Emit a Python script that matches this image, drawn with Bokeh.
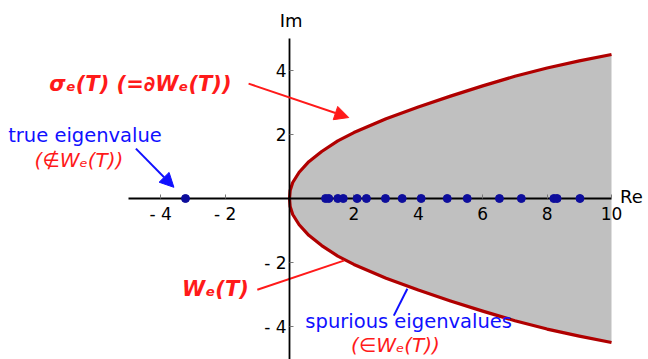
from bokeh.plotting import figure
from bokeh.models import Range1d, LinearAxis, FixedTicker, Label, Arrow, NormalHead
from bokeh.embed import file_html
from bokeh.resources import INLINE

# boundary of W_e(T) (upper half; the set is symmetric about the real axis)
boundary_re = [0.0, 0.02, 0.1, 0.3, 0.6, 1.0, 1.5, 2.0, 3.0, 4.0, 5.0, 6.0, 7.0, 8.0, 9.0, 10.0]
boundary_im = [0.0, 0.25, 0.5, 0.82, 1.15, 1.47, 1.80, 2.06, 2.49, 2.86, 3.20, 3.52, 3.82, 4.08, 4.30, 4.50]

# spurious eigenvalues (on the real axis, inside W_e(T))
spurious_re = [1.12, 1.22, 1.50, 1.67, 2.10, 2.39, 2.98, 3.50, 4.09, 4.90, 5.52, 6.52, 7.20, 8.21, 8.31, 9.02]
spurious_im = [0.0] * len(spurious_re)

# true eigenvalue
true_re = [-3.23]
true_im = [0.0]

x_ticks = [-4, -2, 2, 4, 6, 8, 10]
y_ticks = [-4, -2, 2, 4]
tick_label_overrides = {-4: "- 4", -2: "- 2"}

FONT = "DejaVu Sans"
RED = "#ff1a1a"
BLUE = "#1010ff"

p = figure(width=648, height=359,
           x_range=Range1d(-8.975, 11.149), y_range=Range1d(-5.031, 6.1875),
           output_backend="svg", toolbar_location=None, min_border=0,
           x_axis_type=None, y_axis_type=None)
p.outline_line_color = None
p.background_fill_color = "white"
p.border_fill_color = "white"

# filled region W_e(T)
patch_x = boundary_re + boundary_re[::-1]
patch_y = boundary_im + [-v for v in boundary_im[::-1]]
p.patch(patch_x, patch_y, fill_color="#c0c0c0", line_color=None)

# boundary curve sigma_e(T)
curve_x = boundary_re[::-1] + boundary_re[1:]
curve_y = boundary_im[::-1] + [-v for v in boundary_im[1:]]
p.line(curve_x, curve_y, line_color="#b00000", line_width=3.2, line_join="round")

# axes through the origin
def style_axis(ax, ticks):
    ax.ticker = FixedTicker(ticks=ticks)
    ax.major_label_overrides = tick_label_overrides
    ax.minor_tick_line_color = None
    ax.major_tick_in = 4
    ax.major_tick_out = 0
    ax.major_tick_line_color = "#777777"
    ax.axis_line_color = "black"
    ax.axis_line_width = 1.8
    ax.major_label_text_font = FONT
    ax.major_label_text_font_size = "17px"
    ax.major_label_text_color = "black"

xaxis = LinearAxis(fixed_location=0, bounds=(-5, 10))
style_axis(xaxis, x_ticks)
xaxis.major_label_standoff = 5
p.add_layout(xaxis, "below")

yaxis = LinearAxis(fixed_location=0, bounds=(-6, 5))
style_axis(yaxis, y_ticks)
yaxis.major_label_standoff = 3
p.add_layout(yaxis, "left")

# eigenvalues
pts = p.scatter(spurious_re, spurious_im, size=8, fill_color="#0d0d9c", line_color="#0d0d9c")
pts.level = "overlay"
tp = p.scatter(true_re, true_im, size=8, fill_color="#0d0d9c", line_color="#0d0d9c")
tp.level = "overlay"

# axis names
p.add_layout(Label(x=0.05, y=5.56, text="Im", text_align="center", text_baseline="middle",
                   text_font=FONT, text_font_size="18px", text_color="black"))
p.add_layout(Label(x=10.62, y=0.05, text="Re", text_align="center", text_baseline="middle",
                   text_font=FONT, text_font_size="18px", text_color="black"))

# annotations
p.add_layout(Label(x=-4.63, y=3.59, text="σₑ(T) (=∂Wₑ(T))", text_align="center", text_baseline="middle",
                   text_font=FONT, text_font_size="21px", text_font_style="bold italic", text_color=RED))
p.add_layout(Arrow(x_start=-1.27, y_start=3.59, x_end=1.84, y_end=2.53,
                   line_color=RED, line_width=2,
                   end=NormalHead(size=14, fill_color=RED, line_color=RED)))

p.add_layout(Label(x=-6.35, y=1.97, text="true eigenvalue", text_align="center", text_baseline="middle",
                   text_font=FONT, text_font_size="19.5px", text_color=BLUE))
p.add_layout(Label(x=-6.54, y=1.19, text="(∉Wₑ(T))", text_align="center", text_baseline="middle",
                   text_font=FONT, text_font_size="20px", text_font_style="italic", text_color=RED))
p.add_layout(Arrow(x_start=-4.77, y_start=1.56, x_end=-3.59, y_end=0.35,
                   line_color=BLUE, line_width=2,
                   end=NormalHead(size=14, fill_color=BLUE, line_color=BLUE)))

p.add_layout(Label(x=-2.30, y=-2.84, text="Wₑ(T)", text_align="center", text_baseline="middle",
                   text_font=FONT, text_font_size="21px", text_font_style="bold italic", text_color=RED))
p.segment(x0=[-1.0], y0=[-2.85], x1=[1.69], y1=[-1.94], line_color=RED, line_width=2)

p.add_layout(Label(x=3.70, y=-3.84, text="spurious eigenvalues", text_align="center", text_baseline="middle",
                   text_font=FONT, text_font_size="19.5px", text_color=BLUE))
p.add_layout(Label(x=3.29, y=-4.59, text="(∈Wₑ(T))", text_align="center", text_baseline="middle",
                   text_font=FONT, text_font_size="20px", text_font_style="italic", text_color=RED))
p.segment(x0=[3.24], y0=[-3.66], x1=[3.66], y1=[-2.82], line_color=BLUE, line_width=2)

open("out.html", "w").write(file_html(p, INLINE))
